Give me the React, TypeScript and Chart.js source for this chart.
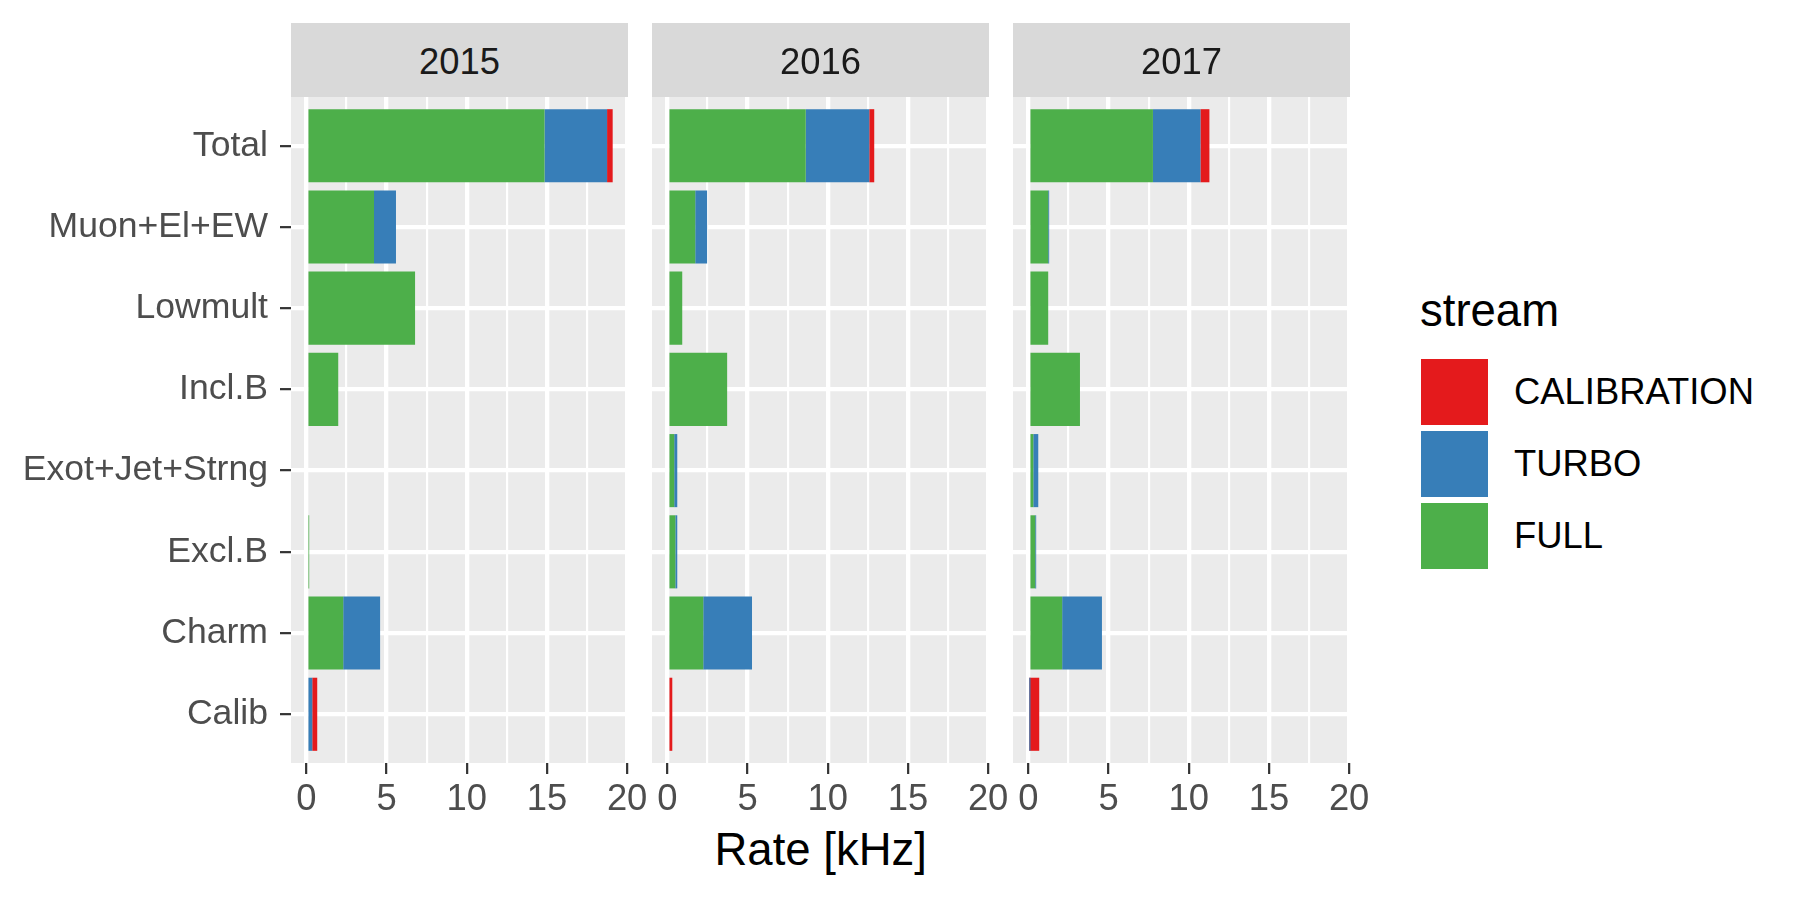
import React, { useEffect, useRef } from "react";
import { Chart, registerables } from "chart.js";

Chart.register(...registerables);

// ---------- data ----------
const categories = [
  "Total",
  "Muon+El+EW",
  "Lowmult",
  "Incl.B",
  "Exot+Jet+Strng",
  "Excl.B",
  "Charm",
  "Calib",
];
const years = ["2015", "2016", "2017"];
const legendStreams = ["CALIBRATION", "TURBO", "FULL"];
const xTickValues = [0, 5, 10, 15, 20];
const xMinorValues = [2.5, 7.5, 12.5, 17.5];

const full2015 = [14.85, 4.22, 6.78, 1.99, 0, 0.18, 2.3, 0];
const turbo2015 = [3.9, 1.37, 0, 0, 0, 0, 2.3, 0.37];
const calib2015 = [0.35, 0, 0, 0, 0, 0, 0, 0.31];

const full2016 = [8.63, 1.74, 0.93, 3.73, 0.43, 0.5, 2.24, 0];
const turbo2016 = [3.96, 0.74, 0, 0, 0.19, 0.12, 3.04, 0];
const calib2016 = [0.31, 0, 0, 0, 0, 0, 0, 0.31];

const full2017 = [7.77, 1.24, 1.24, 3.22, 0.31, 0.43, 2.11, 0];
const turbo2017 = [2.96, 0.06, 0, 0, 0.31, 0.06, 2.48, 0.06];
const calib2017 = [0.56, 0, 0, 0, 0, 0, 0, 0.62];

const fullByYear = [full2015, full2016, full2017];
const turboByYear = [turbo2015, turbo2016, turbo2017];
const calibByYear = [calib2015, calib2016, calib2017];

// ---------- style / layout ----------
const COLORS: Record<string, string> = {
  FULL: "#4DAF4A",
  TURBO: "#377EB8",
  CALIBRATION: "#E41A1C",
};
const FONT = '"Liberation Sans", Arial, Helvetica, sans-serif';
const SMALL = 36.4;
const YLAB = 35.6;
const LARGE = 45.5;
const X_MIN = -0.955;
const X_MAX = 20.055;
const PANEL_LEFTS = [291, 652, 1013];
const PANEL_W = 337;
const PANEL_TOP = 97;
const PANEL_H = 666;
const X_AXIS_H = 60;
const PAD_L = 20;
const PAD_R = 40;
const PAD_T = 40;

Chart.defaults.font.family = FONT;

const bgPlugin = {
  id: "panelBg",
  beforeDraw(chart: any) {
    const { ctx, chartArea: a } = chart;
    ctx.save();
    ctx.fillStyle = "#EBEBEB";
    ctx.fillRect(a.left, a.top, a.right - a.left, a.bottom - a.top);
    ctx.restore();
  },
};

const isMajor = (v: number) => Math.abs(v % 5) < 1e-9;

function Panel({ p }: { p: number }) {
  const ref = useRef<HTMLCanvasElement>(null);
  const yW = p === 0 ? PANEL_LEFTS[0] : 0;
  const padL = p === 0 ? 0 : PAD_L;
  const left = p === 0 ? 0 : PANEL_LEFTS[p] - PAD_L;
  const width = yW + padL + PANEL_W + PAD_R;
  const height = PAD_T + PANEL_H + X_AXIS_H;

  useEffect(() => {
    const mk = (vals: number[]) => vals.map((v, i) => ({ x: v, y: i }));
    const chart = new Chart(ref.current as HTMLCanvasElement, {
      type: "bar",
      data: {
        datasets: [
          { label: "FULL", data: mk(fullByYear[p]), backgroundColor: COLORS.FULL },
          { label: "TURBO", data: mk(turboByYear[p]), backgroundColor: COLORS.TURBO },
          { label: "CALIBRATION", data: mk(calibByYear[p]), backgroundColor: COLORS.CALIBRATION },
        ] as any,
      },
      options: {
        indexAxis: "y",
        animation: false,
        responsive: false,
        maintainAspectRatio: false,
        layout: { padding: { left: padL, right: PAD_R, top: PAD_T, bottom: 0 } },
        datasets: {
          bar: { barPercentage: 0.9, categoryPercentage: 1, borderWidth: 0 },
        },
        plugins: {
          legend: { display: false },
          tooltip: { enabled: false },
          title: { display: false },
        },
        scales: {
          x: {
            type: "linear",
            position: "bottom",
            stacked: true,
            offset: false,
            min: X_MIN,
            max: X_MAX,
            afterBuildTicks: (s: any) => {
              s.ticks = [...xTickValues, ...xMinorValues]
                .sort((a, b) => a - b)
                .map((v) => ({ value: v }));
            },
            afterFit: (s: any) => {
              s.height = X_AXIS_H;
            },
            ticks: {
              autoSkip: false,
              maxRotation: 0,
              minRotation: 0,
              padding: 4,
              color: "#4D4D4D",
              font: { size: SMALL, family: FONT },
              callback: (v: any) => (isMajor(Number(v)) ? String(v) : ""),
            },
            grid: {
              offset: false,
              color: "#FFFFFF",
              lineWidth: (c: any) => (c.tick && isMajor(c.tick.value) ? 4.3 : 2.15),
              drawTicks: true,
              tickLength: 11,
              tickWidth: 2.2,
              tickColor: (c: any) =>
                c.tick && isMajor(c.tick.value) ? "#333333" : "rgba(0,0,0,0)",
            },
            border: { display: false },
          },
          y: {
            type: "linear",
            position: "left",
            stacked: true,
            reverse: true,
            offset: false,
            min: -0.6,
            max: categories.length - 1 + 0.6,
            afterBuildTicks: (s: any) => {
              s.ticks = categories.map((_, i) => ({ value: i }));
            },
            afterFit: (s: any) => {
              s.width = yW;
            },
            ticks: {
              display: p === 0,
              autoSkip: false,
              padding: 12,
              color: "#4D4D4D",
              font: { size: YLAB, family: FONT },
              callback: (v: any) => categories[Number(v)] ?? "",
            },
            grid: {
              offset: false,
              color: "#FFFFFF",
              lineWidth: 4.3,
              drawTicks: p === 0,
              tickLength: 11,
              tickWidth: 2.2,
              tickColor: "#333333",
            },
            border: { display: false },
          },
        },
      } as any,
      plugins: [bgPlugin],
    });
    return () => chart.destroy();
  }, [p]);

  return (
    <canvas
      ref={ref}
      width={width}
      height={height}
      style={{
        position: "absolute",
        left,
        top: PANEL_TOP - PAD_T,
        width,
        height,
      }}
    />
  );
}

export default function App() {
  return (
    <div
      style={{
        position: "fixed",
        left: 0,
        top: 0,
        width: 1800,
        height: 900,
        background: "#FFFFFF",
        fontFamily: FONT,
        overflow: "hidden",
      }}
    >
      {years.map((_, p) => (
        <Panel key={p} p={p} />
      ))}
      {years.map((y, p) => (
        <div
          key={"strip" + p}
          style={{
            position: "absolute",
            left: PANEL_LEFTS[p],
            top: 23,
            width: PANEL_W,
            height: 74,
            background: "#D9D9D9",
            color: "#1A1A1A",
            fontSize: SMALL,
            display: "flex",
            alignItems: "center",
            justifyContent: "center",
            paddingTop: 3,
            boxSizing: "border-box",
          }}
        >
          {y}
        </div>
      ))}
      <div
        style={{
          position: "absolute",
          left: 520.7,
          width: 600,
          top: 866 - 0.8465 * LARGE,
          fontSize: LARGE,
          lineHeight: LARGE + "px",
          textAlign: "center",
          color: "#000000",
        }}
      >
        Rate [kHz]
      </div>
      <div
        style={{
          position: "absolute",
          left: 1420,
          top: 326.7 - 0.8465 * LARGE,
          fontSize: LARGE,
          lineHeight: LARGE + "px",
          color: "#000000",
        }}
      >
        stream
      </div>
      {legendStreams.map((s, r) => (
        <React.Fragment key={s}>
          <div
            style={{
              position: "absolute",
              left: 1421,
              top: 359 + 72 * r,
              width: 67,
              height: 66,
              background: COLORS[s],
            }}
          />
          <div
            style={{
              position: "absolute",
              left: 1514,
              top: 359 + 72 * r + 33 + 0.358 * SMALL - 0.8465 * SMALL,
              fontSize: SMALL,
              lineHeight: SMALL + "px",
              color: "#000000",
              whiteSpace: "nowrap",
            }}
          >
            {s}
          </div>
        </React.Fragment>
      ))}
    </div>
  );
}
